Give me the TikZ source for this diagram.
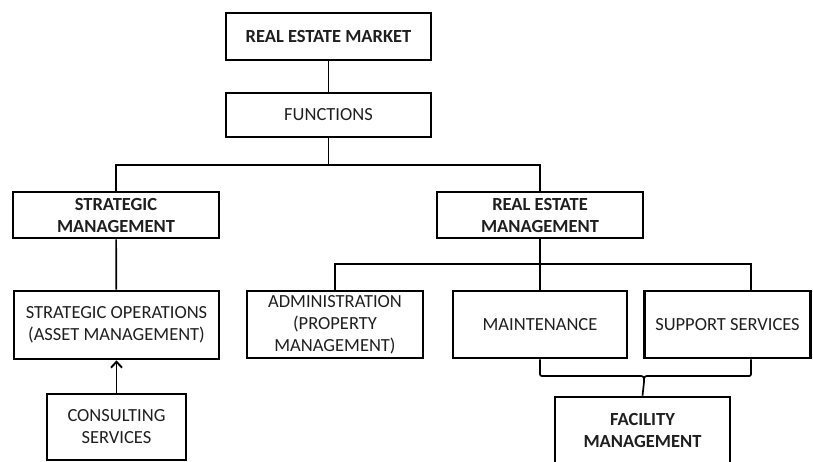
\documentclass[tikz,border=0pt]{standalone}
\usepackage{fontspec}
\setmainfont{Carlito}
\usetikzlibrary{arrows.meta}
\begin{document}
\begin{tikzpicture}[x=1pt,y=-1pt,
  box/.style={draw, line width=2.6pt, inner sep=0pt, align=center, text=black!88,
    font=\fontsize{18.5}{22}\selectfont},
  bbox/.style={box, font=\fontsize{18.5}{22}\selectfont\bfseries},
  conn/.style={line width=1.7pt}]
\useasboundingbox (0,0) rectangle (813,462);
\clip (0,0) rectangle (813,462);

\node[bbox, minimum width=205pt, minimum height=47pt] (rem) at (328.5,36.5) {REAL ESTATE MARKET};
\node[box, minimum width=205pt, minimum height=44pt] (fun) at (328.5,115) {FUNCTIONS};
\node[bbox, minimum width=206pt, minimum height=46pt] (sm) at (116,215) {STRATEGIC\\MANAGEMENT};
\node[bbox, minimum width=206pt, minimum height=46pt] (rm) at (540,215) {REAL ESTATE\\MANAGEMENT};
\node[box, minimum width=205pt, minimum height=68pt] (so) at (116.5,325) {STRATEGIC OPERATIONS\\(ASSET MANAGEMENT)};
\node[box, minimum width=176pt, minimum height=67pt] (adm) at (335,324.5) {ADMINISTRATION\\(PROPERTY\\MANAGEMENT)};
\node[box, minimum width=174pt, minimum height=67pt] (mnt) at (540,324.5) {MAINTENANCE};
\node[box, minimum width=166pt, minimum height=67pt] (sup) at (727.5,324.5) {SUPPORT SERVICES};
\node[box, minimum width=139pt, minimum height=66pt] (con) at (116.5,427) {CONSULTING\\SERVICES};
\node[bbox, minimum width=175pt, minimum height=67pt] (fac) at (642.5,430.5) {FACILITY\\MANAGEMENT};

\coordinate (j1) at (328.5,165);
\coordinate (j2) at (540,264);
\coordinate (sk) at ([xshift=23.5pt]sup.north);
\coordinate (sb) at ([xshift=23.5pt]sup.south);

\draw[conn] (rem) -- (fun);
\draw[conn] (fun.south) -- (j1);
\draw[conn] (sm.north) |- (j1) -| (rm.north);
\draw[conn] (sm) -- (so);
\draw[conn, -{Straight Barb[length=6pt,width=11pt,line width=1.9pt]}] (con) -- (so);
\draw[conn] (rm.south) -- (j2);
\draw[conn] (adm.north) |- (j2) -- (mnt.north);
\draw[conn] (j2) -| (sk);

\draw[conn] (mnt.south) -- (540,372) .. controls (540,376) .. (544,376) -- (638,376)
  .. controls (644,376) .. (644,382) -- (fac.north);
\draw[conn] (sb) -- (751,372) .. controls (751,376) .. (747,376) -- (650,376)
  .. controls (644,376) .. (644,382);
\end{tikzpicture}
\end{document}
